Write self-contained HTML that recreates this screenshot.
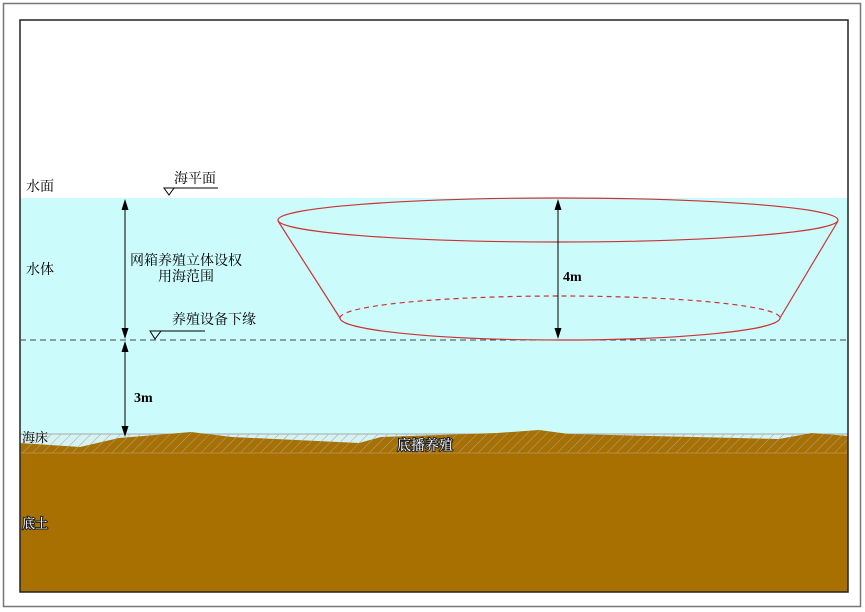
<!DOCTYPE html>
<html><head><meta charset="utf-8"><style>
html,body{margin:0;padding:0;background:#fff;}
svg{display:block;}
text{font-family:"Liberation Serif","Noto Serif CJK SC","Noto Sans CJK SC",serif;}
.wt{fill:#fff;stroke:#222;stroke-width:2;paint-order:stroke;}
</style></head><body>
<svg width="865" height="612" viewBox="0 0 865 612" xmlns="http://www.w3.org/2000/svg">
<defs>
<pattern id="h" width="7" height="7" patternUnits="userSpaceOnUse" patternTransform="rotate(45)">
<line x1="0" y1="0" x2="0" y2="7" stroke="#9aa" stroke-width="1"/>
</pattern>
</defs>
<rect x="3.5" y="3.5" width="857" height="603" fill="#fff" stroke="#777" stroke-width="1.5"/>
<rect x="20" y="198" width="828" height="394" fill="#ccfbfc"/>
<rect x="20" y="434" width="828" height="19" fill="#d6f2f2"/>
<rect x="20" y="434" width="828" height="19" fill="url(#h)"/>
<line x1="20" y1="434" x2="848" y2="434" stroke="#aaa" stroke-width="1"/>
<path d="M20,443 L80,447 L119,438 L191,432 L232,437 L359,443 L381,437 L497,433 L539,430 L569,434 L779,439 L812,433 L848,436 L848,592 L20,592 Z" fill="#a87000"/>
<path d="M20,443 L80,447 L119,438 L191,432 L232,437 L359,443 L381,437 L497,433 L539,430 L569,434 L779,439 L812,433 L848,436 L848,453 L20,453 Z" fill="url(#h)"/>
<line x1="20" y1="453" x2="848" y2="453" stroke="#b89040" stroke-width="1"/>
<rect x="20" y="20" width="828" height="572" fill="none" stroke="#222" stroke-width="1.5"/>
<text x="26" y="191" font-size="14">水面</text>
<text x="26" y="274" font-size="14">水体</text>
<text x="22" y="442" font-size="13">海床</text>
<text x="22" y="528" font-size="13" class="wt">底土</text>
<text x="397" y="450" font-size="14" class="wt">底播养殖</text>
<text x="174" y="183" font-size="14">海平面</text>
<line x1="170" y1="188" x2="218" y2="188" stroke="#000"/>
<path d="M164,188 L174,188 L169,195 Z" fill="none" stroke="#000"/>
<text x="172" y="324" font-size="14">养殖设备下缘</text>
<line x1="157" y1="331" x2="205" y2="331" stroke="#000"/>
<path d="M150,331 L161,331 L155,339 Z" fill="none" stroke="#000"/>
<line x1="20" y1="340" x2="848" y2="340" stroke="#444" stroke-width="1" stroke-dasharray="6,4"/>
<!-- arrows -->
<line x1="125" y1="202" x2="125" y2="336" stroke="#000"/>
<path d="M125,199 L121.5,210 L128.5,210 Z M125,339 L121.5,328 L128.5,328 Z" fill="#000"/>
<line x1="125" y1="344" x2="125" y2="434" stroke="#000"/>
<path d="M125,341 L121.5,352 L128.5,352 Z M125,437 L121.5,426 L128.5,426 Z" fill="#000"/>
<text x="130" y="265" font-size="14">网箱养殖立体设权</text>
<text x="158" y="281" font-size="14">用海范围</text>
<text x="134" y="402" font-size="14" font-weight="bold">3m</text>
<ellipse cx="558" cy="220" rx="280" ry="22" fill="none" stroke="#c33" stroke-width="1.2"/>
<line x1="278" y1="221" x2="340" y2="318" stroke="#c33" stroke-width="1.2"/>
<line x1="838" y1="221" x2="780" y2="318" stroke="#c33" stroke-width="1.2"/>
<path d="M340,318 A220,22 0 0 0 780,318" fill="none" stroke="#c33" stroke-width="1.2"/>
<path d="M340,318 A220,22 0 0 1 780,318" fill="none" stroke="#c33" stroke-width="1.2" stroke-dasharray="5,4"/>
<line x1="558" y1="202" x2="558" y2="336" stroke="#000"/>
<path d="M558,199 L554.5,210 L561.5,210 Z M558,339 L554.5,328 L561.5,328 Z" fill="#000"/>
<text x="563" y="281" font-size="14" font-weight="bold">4m</text>
</svg>
</body></html>
